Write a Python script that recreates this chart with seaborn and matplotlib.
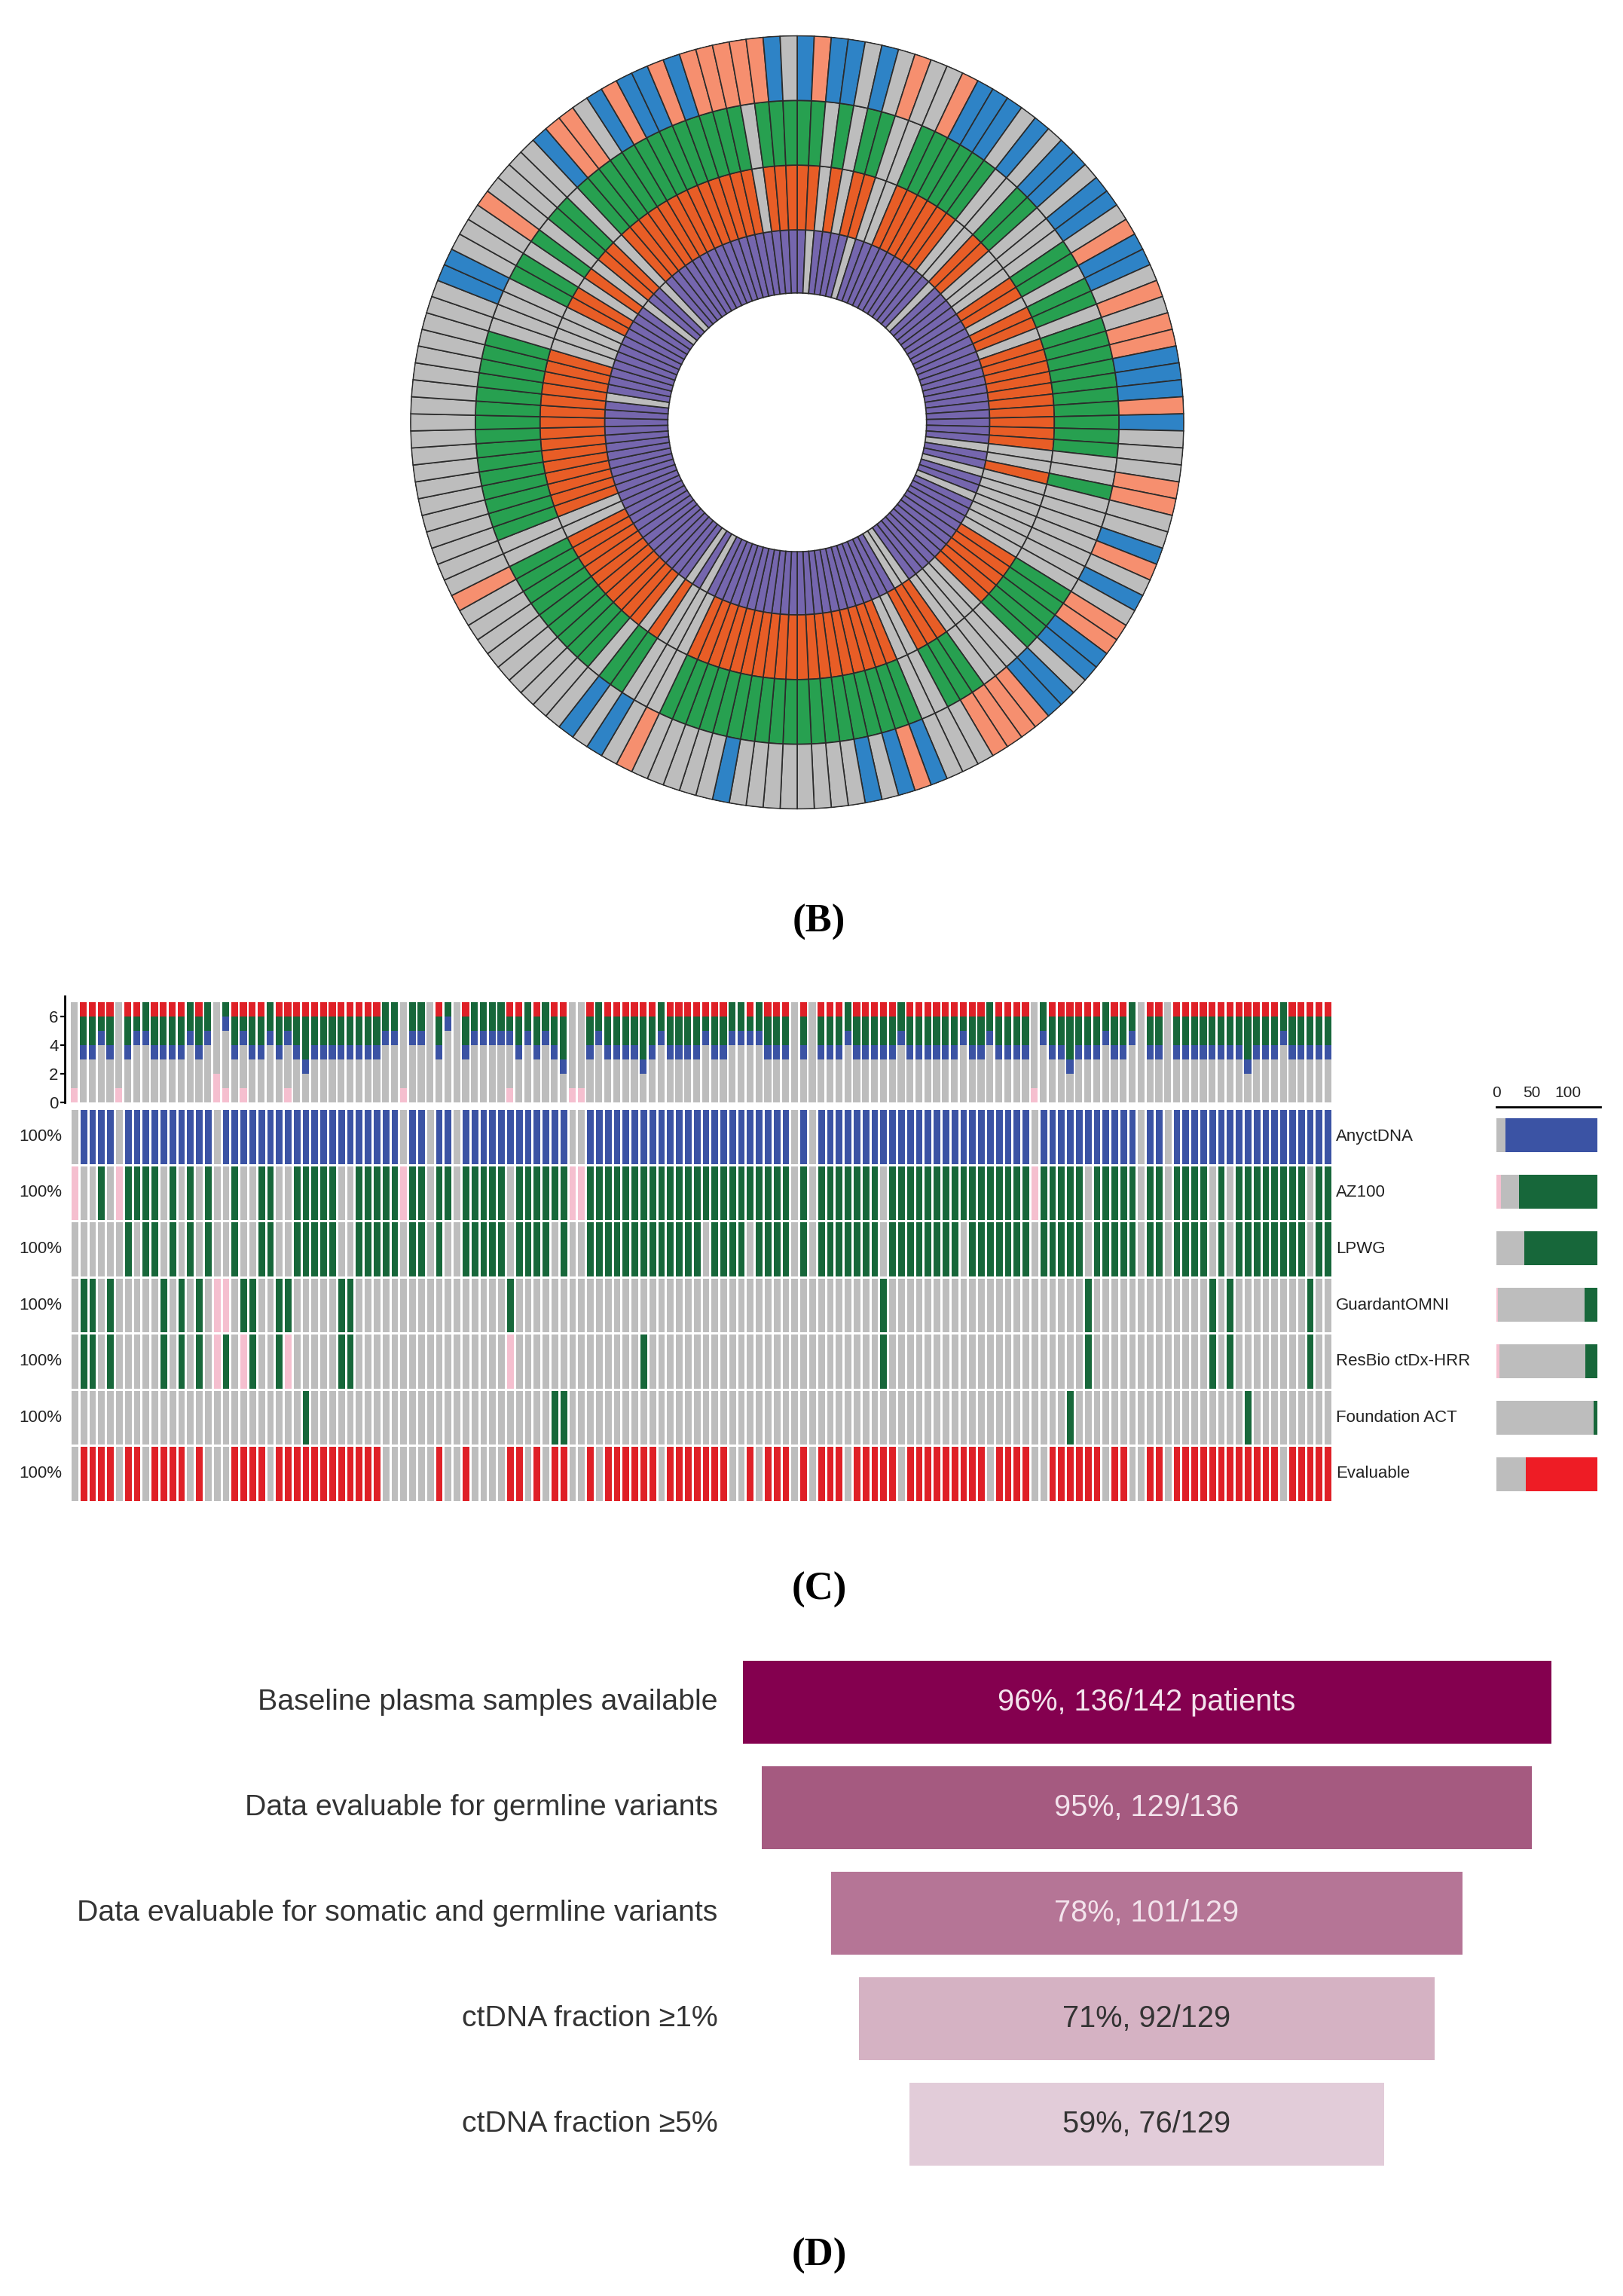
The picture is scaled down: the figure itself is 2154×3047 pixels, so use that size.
import numpy as np
import pandas as pd
import matplotlib
matplotlib.use("Agg")
import matplotlib.pyplot as plt
from matplotlib.colors import ListedColormap
from matplotlib.transforms import ScaledTranslation
import seaborn as sns

# ---------- Panel B: circular tracks (clockwise from 12 o'clock, one letter per sector)
ring_purple = ("X.XXXX.XXX" "XXXXXXX.XX" "XXXXXXXXXX" "XXXXXXXX.X" "X.XX.XXXXX" "XXXXXXX..X" "XXXXXXXXXX"
               "XXXXXXXXXX" "XX.X.XXXXX" "XXXXXXXXXX" "XXXXXXXXX." "XXXXXXXXXX" "X.XX.XXXXX" "XXXXXXXXXX" "XX")
ring_orange = ("XX.X.XX..X" "XXXXX..XX." "..XX.XX.XX" "XXXXXXXX.." "X.......XX" "XXX....XXX" "..XXXXXXXX"
               "XXXXXXXXXX" "X...X.XXXX" "XXXXXX..XX" "XXXXXXXXXX" "XXX....XX." "X.XX.XXXXX" "XXXXXXXX.X" "XX")
ring_green = ("XX.X.XX..X" "XXXXX..XX." "..XX.XX.XX" "XXXXXXXX.." "X.......XX" "XXX....XXX" "..XXXXXXXX"
              "XXXXXXXXXX" "X...XX.XXX" "XXXXXX..XX" "XXXXXXXXXX" "XXX....XX." "X.XX.XXXXX" "XXXXXXXX.X" "XX")
ring_outer = ("BSBB.B.S.." "SBBB.B.BB." "BB.SBB.S.S" "SBBBSB...S" "S..BS.B.SS" "BB.BBSSSS." "..BSB.B..."
              ".....B...." ".S.B.B...." ".....S...." ".........." ".....BB..." "S....BSS.B" "SBBSBSSSSS" "B.")
ring_radii = [172, 256, 342, 428, 514]

# ---------- Panel C: sample x assay matrix (. = not detected, p = no data, X = detected)
row_names = ["AnyctDNA", "AZ100", "LPWG", "GuardantOMNI", "ResBio ctDx-HRR", "Foundation ACT", "Evaluable"]
row_any = (".XXXX.XXXX" "XXXXXX.XXX" "XXXXXXXXXX" "XXXXXXX.XX" ".XX.XXXXXX" "XXXXXX..XX" "XXXXXXXXXX"
           "XXXXXXXXXX" "X.X.XXXXXX" "XXXXXXXXXX" "XXXXXXXX.X" "XXXXXXXXXX" ".XX.XXXXXX" "XXXXXXXXXX" "XX")
row_az = ("p..X.pXXXX" ".X.X.X..X." ".XX..XXXXX" "..XXXXXpXX" ".XX.XXXXX." "XXXXXXppXX" "XXXXXXXXXX"
          "XXXXXXXXXX" "X.X.XXXXXX" "X.XXXXXXXX" "XXXXXXXXpX" "XXXX.XXXXX" ".XX.XXXX.X" ".XXXXXXXX." "XX")
row_lp = ("......X.XX" ".X.X.X..X." ".XX..XXXXX" "..XXXXX.XX" ".X..XXXXX." "XXXX.X..XX" "XXXXXXXXXX"
          "X.XXXX.XXX" "X.X.XXXXXX" "X.XXXXXXXX" ".XXXXXXX.X" "XXXX.XXXXX" ".XX.XXXX.X" ".XXXXXXXX." "XX")
row_gu = (".XX.X....." "X.X.X.pp.X" "X..XX....." "XX........" ".........X" ".........." ".........."
          ".........." ".........." ".X........" ".........." "....X....." "........X." "X........X" "..")
row_rb = (".XX.X....." "X.X.X.pX.p" "X..Xp....." "XX........" ".........p" ".........." "....X....."
          ".........." ".........." ".X........" ".........." "....X....." "........X." "X........X" "..")
row_fo = (".........." ".........." "......X..." ".........." ".........." "....XX...." ".........."
          ".........." ".........." ".........." ".........." "..X......." ".........." "..X......." "..")
row_ev = (".XXXX.XX.X" "XXX.X...XX" "XX.XXXXXXX" "XXXXX....." ".X..X....X" "X.X.XX..X." "XXXXXX.XXX"
          "XXXX..X.XX" "X.X.XXX.XX" "XXX.XXXXXX" "XXX.XXXX.." "XXXXXX.XX." ".XX.XXXXXX" "XXXXXX.XXX" "XX")
row_strings = [row_any, row_az, row_lp, row_gu, row_rb, row_fo, row_ev]
row_colors = ["blue", "green", "green", "green", "green", "green", "red"]
top_ticks = [0, 2, 4, 6]
side_ticks = [0, 50, 100]

# ---------- Panel D: funnel
funnel_labels = ["Baseline plasma samples available", "Data evaluable for germline variants",
                 "Data evaluable for somatic and germline variants", "ctDNA fraction \u22651%", "ctDNA fraction \u22655%"]
funnel_texts = ["96%, 136/142 patients", "95%, 129/136", "78%, 101/129", "71%, 92/129", "59%, 76/129"]
funnel_widths = [96.0, 91.4, 75.0, 68.3, 56.3]
funnel_colors = ["#84004F", "#A55A80", "#B57596", "#D5B2C3", "#E2CCD9"]
funnel_text_colors = ["#F3E3EC", "#F3E3EC", "#F3E3EC", "#333333", "#333333"]

captions = ["(B)", "(C)", "(D)"]

GREY = "#BDBDBD"
PINK = "#F5BFCF"
BLUE = "#3B53A4"
DGREEN = "#17673A"
RED = "#DF2027"

W, H = 2154, 3047
sns.set_theme(style="white")
plt.rcParams["font.family"] = ["Liberation Sans", "DejaVu Sans"]
fig = plt.figure(figsize=(W / 100, H / 100), dpi=100, facecolor="white")


def px_axes(x0, y0, x1, y1, **kw):
    return fig.add_axes([x0 / W, 1 - y1 / H, (x1 - x0) / W, (y1 - y0) / H], **kw)


# ---------- B
ax = px_axes(1058 - 514, 560.5 - 514, 1058 + 514, 560.5 + 514, projection="polar")
ax.set_theta_zero_location("N")
ax.set_theta_direction(-1)
tracks = [
    (ring_purple, {"X": "#7566AE", ".": GREY}),
    (ring_orange, {"X": "#E85D26", ".": GREY}),
    (ring_green, {"X": "#27A050", ".": GREY}),
    (ring_outer, {"B": "#2E83C6", "S": "#F68F6F", ".": GREY}),
]
n = len(ring_outer)
step = 2 * np.pi / n
theta = np.arange(n) * step
for k, (codes, cmap) in enumerate(tracks):
    ax.bar(theta, ring_radii[k + 1] - ring_radii[k], width=step, bottom=ring_radii[k], align="edge",
           color=[cmap[c] for c in codes], edgecolor="#2B2B2B", linewidth=1.2)
ax.set_ylim(0, 514 + 1)
ax.set_axis_off()

# ---------- C matrix
code_map = {".": 0, "p": 1}
color_code = {"blue": 2, "green": 3, "red": 4}
matrix = np.array([[code_map.get(ch, color_code[col]) for ch in s] for s, col in zip(row_strings, row_colors)])
X0, X1 = 93, 1768
axh = px_axes(X0, 1471, X1, 1993)
sns.heatmap(matrix, ax=axh, cmap=ListedColormap([GREY, PINK, BLUE, DGREEN, RED]), vmin=0, vmax=4, cbar=False,
            linewidths=1.9, linecolor="white", xticklabels=False, yticklabels=["100%"] * 7, square=False)
axh.tick_params(axis="y", length=0, pad=8, labelsize=16, labelcolor="#222222", rotation=0)
for i, name in enumerate(row_names):
    axh.text(matrix.shape[1] + 0.45, i + 0.5, name, ha="left", va="center", fontsize=16, color="#222222", clip_on=False)

# ---------- C top stacked bars (counts derived from the matrix)
counts = pd.DataFrame({
    "col": np.arange(matrix.shape[1]),
    "pink": (matrix == 1).sum(axis=0),
    "grey": (matrix == 0).sum(axis=0),
    "blue": (matrix == 2).sum(axis=0),
    "green": (matrix == 3).sum(axis=0),
    "red": (matrix == 4).sum(axis=0),
})
axt = px_axes(X0, 1322, X1, 1463)
cum = counts[["pink", "grey", "blue", "green", "red"]].cumsum(axis=1)
for key, c in [("red", RED), ("green", DGREEN), ("blue", BLUE), ("grey", GREY), ("pink", PINK)]:
    sns.barplot(x=counts["col"], y=cum[key], color=c, saturation=1, width=0.78, errorbar=None, ax=axt, linewidth=0)
axt.set_xlim(-0.5, matrix.shape[1] - 0.5)
axt.set_ylim(0, 141 / 19)
axt.set_xlabel("")
axt.set_ylabel("")
axt.set_xticks([])
axt.set_yticks(top_ticks)
axt.tick_params(axis="y", left=True, length=4, width=1.6, color="black", labelsize=16, pad=2, labelcolor="#222222")
sns.despine(ax=axt, bottom=True)
axt.spines["left"].set_position(("outward", 5))
axt.spines["left"].set_linewidth(2)
axt.spines["left"].set_color("black")

# ---------- C side totals
side = pd.DataFrame({"row": row_names,
                     "pink": (matrix == 1).sum(axis=1),
                     "grey": (matrix == 0).sum(axis=1),
                     "col": (matrix >= 2).sum(axis=1)})
side["c1"] = side["pink"]
side["c2"] = side["pink"] + side["grey"]
side["c3"] = side["c2"] + side["col"]
axs = px_axes(1986, 1468.5, 2124, 1993.5)
palette_last = {"AnyctDNA": BLUE, "AZ100": DGREEN, "LPWG": DGREEN, "GuardantOMNI": DGREEN,
                "ResBio ctDx-HRR": DGREEN, "Foundation ACT": DGREEN, "Evaluable": "#EE1C25"}
sns.barplot(data=side, y="row", x="c3", hue="row", palette=palette_last, legend=False, saturation=1,
            width=0.6, ax=axs, linewidth=0, orient="y", errorbar=None)
sns.barplot(data=side, y="row", x="c2", color=GREY, saturation=1, width=0.6, ax=axs, linewidth=0, orient="y", errorbar=None)
sns.barplot(data=side, y="row", x="c1", color=PINK, saturation=1, width=0.6, ax=axs, linewidth=0, orient="y", errorbar=None)
axs.set_xlim(0, 138 / 0.945)
axs.set_ylim(6.5, -0.5)
axs.set_xlabel("")
axs.set_ylabel("")
axs.set_yticks([])
axs.set_xticks(side_ticks)
axs.xaxis.tick_top()
axs.tick_params(axis="x", top=True, bottom=False, length=4, width=1.6, color="black", labelsize=15, pad=2, labelcolor="#222222")
sns.despine(ax=axs, left=True, bottom=True, right=True, top=False)
axs.spines["top"].set_linewidth(2)
axs.spines["top"].set_color("black")

# ---------- D funnel
axf = px_axes(958, 2189, 2098, 2889)
unit = 1073 / 96.0
centre = (1522 - 958) / unit
fdf = pd.DataFrame({"label": funnel_labels, "width": funnel_widths})
lefts = centre - fdf["width"].to_numpy() / 2
sns.barplot(data=fdf, y="label", x="width", color=funnel_colors[0], saturation=1, width=0.79, ax=axf,
            linewidth=0, orient="y", errorbar=None, left=lefts)
for patch, c in zip(axf.patches, funnel_colors):
    patch.set_facecolor(c)
axf.set_xlim(0, 1140 / unit)
axf.set_ylim(4.5, -0.5)
axf.set_xlabel("")
axf.set_ylabel("")
axf.set_xticks([])
axf.tick_params(axis="y", length=0, pad=4, labelsize=28.3, labelcolor="#333333")
sns.despine(ax=axf, left=True, bottom=True)
nudge = ScaledTranslation(0, 3 / 72, fig.dpi_scale_trans)
for lab in axf.get_yticklabels():
    lab.set_transform(lab.get_transform() + nudge)
for i, (t, c) in enumerate(zip(funnel_texts, funnel_text_colors)):
    axf.text(centre, i, t, ha="center", va="center", fontsize=28.6, color=c)

# ---------- captions
for txt, yy in zip(captions, [1224, 2110, 2994]):
    fig.text(1087 / W, 1 - yy / H, txt, ha="center", va="center", fontsize=38, fontweight="bold",
             family=["Liberation Serif", "DejaVu Serif"], color="black")

fig.savefig("out.png", dpi=100, facecolor="white")
